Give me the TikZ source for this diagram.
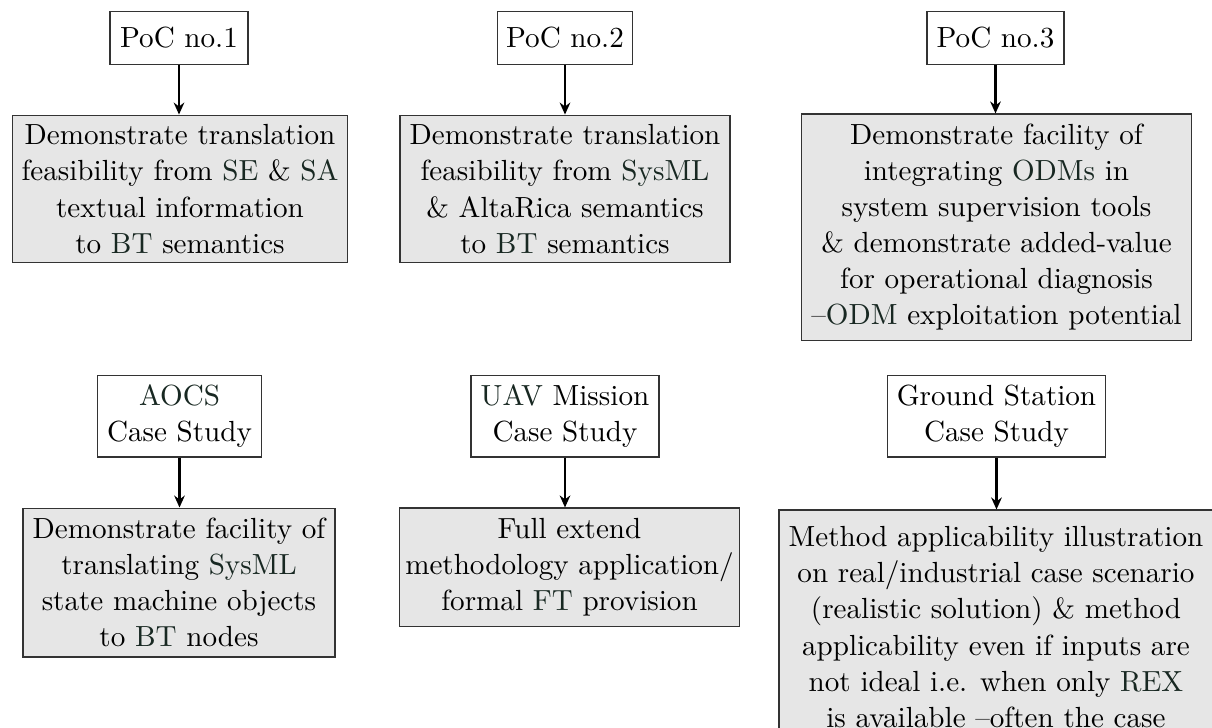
\documentclass[tikz,border=0pt]{standalone}
\usetikzlibrary{arrows.meta}
\definecolor{acr}{RGB}{24,40,34}
\definecolor{boxgray}{RGB}{230,230,230}
\newcommand{\ac}[1]{\textcolor{acr}{#1}}
\tikzset{
  base/.style={draw=black!80, line width=0.4pt, align=center, inner sep=1pt,
    font=\fontsize{10.95}{13.6}\selectfont},
  topbox/.style={base, fill=white},
  graybox/.style={base, fill=boxgray},
  link/.style={line width=0.8pt, -{Stealth[length=4.5pt,width=4pt]}}
}
\begin{document}
\begin{tikzpicture}[x=0.376pt,y=-0.376pt]
\useasboundingbox (0,0) rectangle (1212,727);
% top row
\node[topbox, minimum width=51.9pt, minimum height=19.6pt] (p1) at (179,38) {PoC no.1};
\node[graybox, minimum width=126.3pt, minimum height=55.6pt] (g1) at (180,189)
  {Demonstrate translation\\feasibility from \ac{SE} \& \ac{SA}\\textual information\\to \ac{BT} semantics};
\node[topbox, minimum width=51.1pt, minimum height=19.6pt] (p2) at (565,38) {PoC no.2};
\node[graybox, minimum width=124.1pt, minimum height=55.6pt] (g2) at (565,189)
  {Demonstrate translation\\feasibility from \ac{SysML}\\\& AltaRica semantics\\to \ac{BT} semantics};
\node[topbox, minimum width=51.5pt, minimum height=19.6pt] (p3) at (995.5,38) {PoC no.3};
\node[graybox, minimum width=146.3pt, minimum height=85pt] (g3) at (996.5,227)
  {Demonstrate facility of\\integrating \ac{ODMs} in\\system supervision tools\\\& demonstrate added-value\\for operational diagnosis\\--\ac{ODM} exploitation potential};
% bottom row
\node[topbox, minimum width=62pt, minimum height=30.8pt] (c1) at (179.5,416) {\ac{AOCS}\\Case Study};
\node[graybox, minimum width=117.3pt, minimum height=56pt] (g4) at (179,582.5)
  {Demonstrate facility of\\translating \ac{SysML}\\state machine objects\\to \ac{BT} nodes};
\node[topbox, minimum width=70.7pt, minimum height=30.8pt] (c2) at (565,416) {\ac{UAV} Mission\\Case Study};
\node[graybox, minimum width=127.5pt, minimum height=44.4pt] (g5) at (569.5,567)
  {Full extend\\methodology application/\\formal \ac{FT} provision};
\node[topbox, minimum width=82.3pt, minimum height=30.8pt] (c3) at (996.5,416) {Ground Station\\Case Study};
\node[graybox, minimum width=163.2pt, minimum height=88pt] (g6) at (996,627)
  {Method applicability illustration\\on real/industrial case scenario\\(realistic solution) \& method\\applicability even if inputs are\\not ideal i.e. when only \ac{REX}\\is available --often the case};
% connectors
\draw[link] (p1.south) -- (p1.south |- g1.north);
\draw[link] (p2.south) -- (p2.south |- g2.north);
\draw[link] (p3.south) -- (p3.south |- g3.north);
\draw[link] (c1.south) -- (c1.south |- g4.north);
\draw[link] (c2.south) -- (c2.south |- g5.north);
\draw[link] (c3.south) -- (c3.south |- g6.north);
\end{tikzpicture}
\end{document}
